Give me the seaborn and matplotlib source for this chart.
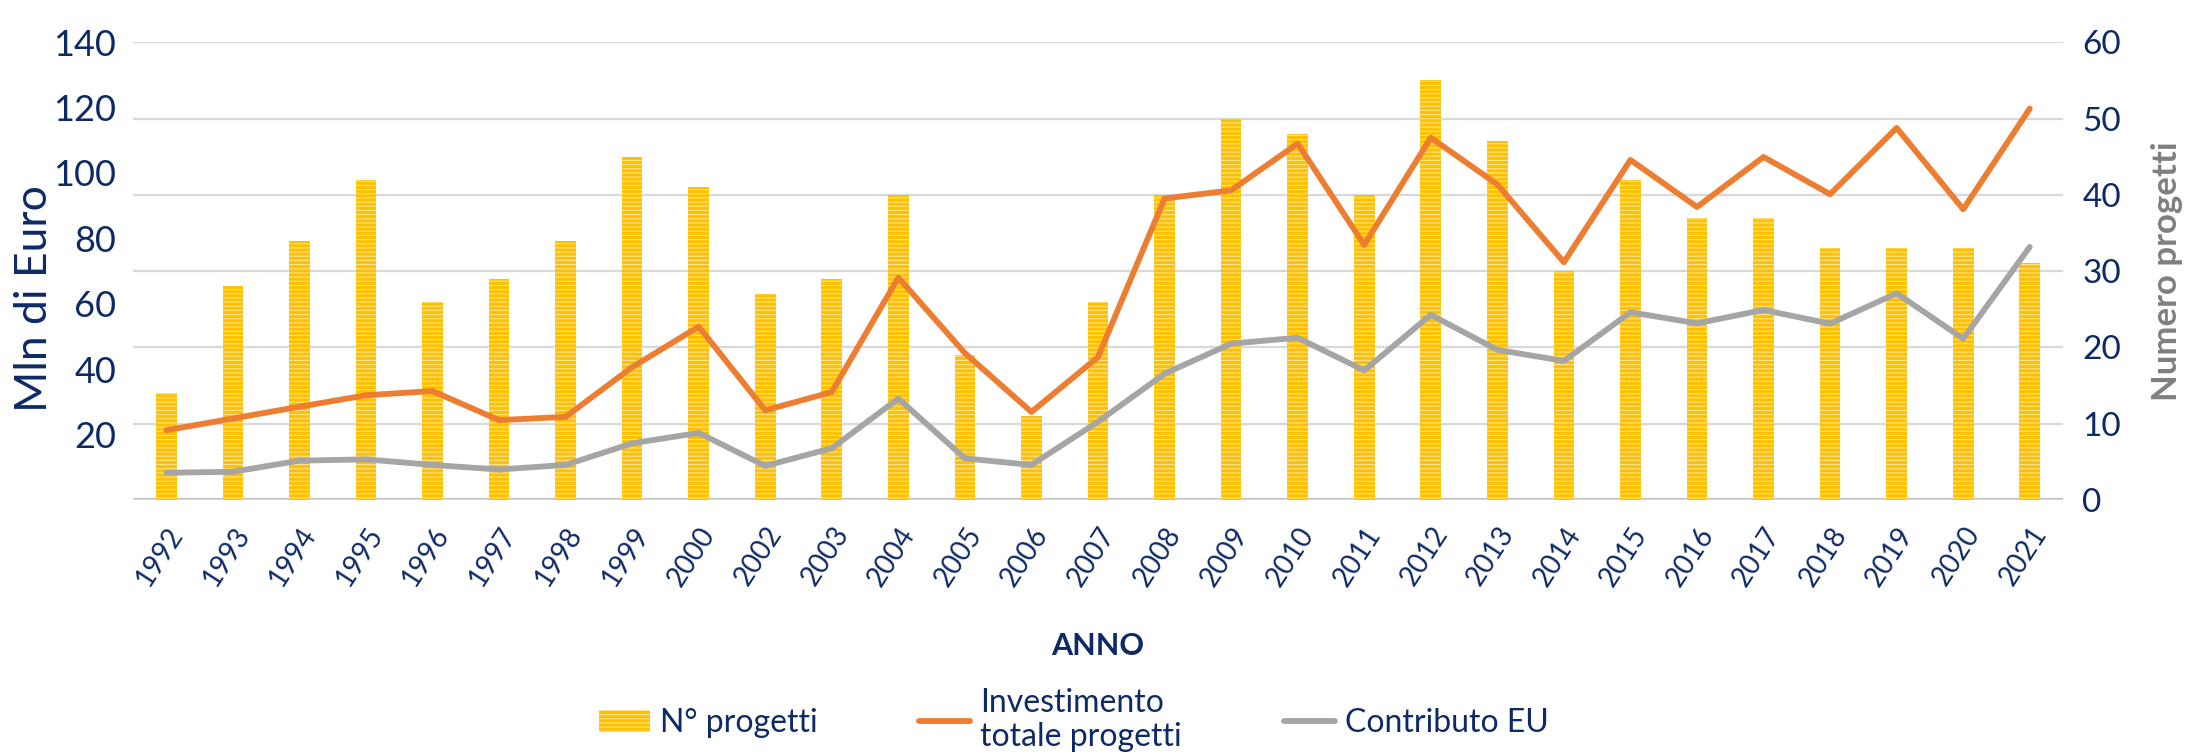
import numpy as np
import pandas as pd
import seaborn as sns
import matplotlib
matplotlib.use('Agg')
import matplotlib.pyplot as plt

# values
anni = ['1992', '1993', '1994', '1995', '1996', '1997', '1998', '1999', '2000', '2002',
        '2003', '2004', '2005', '2006', '2007', '2008', '2009', '2010', '2011', '2012',
        '2013', '2014', '2015', '2016', '2017', '2018', '2019', '2020', '2021']
n_progetti = [14, 28, 34, 42, 26, 29, 34, 45, 41, 27,
              29, 40, 19, 11, 26, 40, 50, 48, 40, 55,
              47, 30, 42, 37, 37, 33, 33, 33, 31]
investimento = [21.3, 24.9, 28.5, 32.0, 33.3, 24.4, 25.4, 40.6, 53.0, 27.4,
                33.0, 68.0, 44.9, 26.9, 43.7, 92.2, 94.7, 109.0, 78.0, 110.8,
                96.5, 72.7, 104.0, 89.6, 104.9, 93.5, 113.8, 88.9, 119.7]
contributo_eu = [8.3, 8.6, 12.0, 12.4, 10.7, 9.3, 10.7, 17.3, 20.5, 10.4,
                 15.8, 31.0, 12.7, 10.7, 23.9, 38.6, 47.8, 49.6, 39.6, 56.6,
                 45.9, 42.5, 57.4, 54.0, 58.1, 53.9, 63.2, 49.3, 77.4]

NAVY = '#0E2A66'
GIALLO = '#FFC000'
ARANCIO = '#ED7D31'
GRIGIO = '#A5A5A5'

sns.set_style('white')
plt.rcParams['font.family'] = ['Lato', 'DejaVu Sans']
plt.rcParams['hatch.linewidth'] = 0.8

df = pd.DataFrame({'anno': anni, 'progetti': n_progetti,
                   'investimento': investimento, 'contributo': contributo_eu,
                   'pos': np.arange(len(anni))})

fig = plt.figure(figsize=(21.91, 7.54), dpi=100)
ax = fig.add_axes([0.0607, 0.337, 0.8809, 0.607])
ax2 = ax.twinx()

# bars on the right axis, drawn underneath the lines
sns.barplot(data=df, x='anno', y='progetti', color=GIALLO, width=0.31,
            saturation=1, ax=ax2, label='N° progetti')
for p in ax2.patches:
    p.set_hatch('----')
    p.set_edgecolor('#FFE48C')
    p.set_linewidth(0)

sns.lineplot(data=df, x='pos', y='investimento', color=ARANCIO, lw=4.2,
             ax=ax, label='Investimento\ntotale progetti')
sns.lineplot(data=df, x='pos', y='contributo', color=GRIGIO, lw=4.2,
             ax=ax, label='Contributo EU')

ax.set_zorder(ax2.get_zorder() + 1)
ax.patch.set_visible(False)

ax.set_xlim(-0.5, len(anni) - 0.5)
ax.set_ylim(0, 140)
ax2.set_ylim(0, 60)
ax.set_yticks(range(20, 141, 20))
ax2.set_yticks(range(0, 61, 10))

ax2.grid(axis='y', color='#D9D9D9', lw=1.6)
ax2.set_axisbelow(True)
ax.grid(False)
ax2.axhline(0, color='#BFBFBF', lw=3, zorder=0.5)

for a in (ax, ax2):
    for s in a.spines.values():
        s.set_visible(False)

ax.set_xticks(range(len(anni)))
ax.set_xticklabels(anni, rotation=57, ha='right', rotation_mode='anchor',
                   fontsize=20, color=NAVY)
ax.tick_params(axis='x', length=0, pad=16)
ax.tick_params(axis='y', length=0, pad=12, labelsize=26, labelcolor=NAVY)
ax2.tick_params(axis='y', length=0, pad=14, labelsize=24, labelcolor=NAVY)

ax.set_xlabel('ANNO', fontsize=22, fontweight='bold', color=NAVY)
ax.xaxis.set_label_coords(0.5, -0.288)
ax.set_ylabel('Mln di Euro', fontsize=32, color=NAVY, va='center')
ax.yaxis.set_label_coords(-0.051, 0.44)
ax2.set_ylabel('Numero progetti', fontsize=25, fontweight='bold',
               color='#7F7F7F', va='center')
ax2.yaxis.set_label_coords(1.054, 0.50)

h1, l1 = ax2.get_legend_handles_labels()
h2, l2 = ax.get_legend_handles_labels()
if ax.get_legend():
    ax.get_legend().remove()
if ax2.get_legend():
    ax2.get_legend().remove()
leg = fig.legend(h1 + h2, l1 + l2, loc='center', bbox_to_anchor=(0.49, 0.045),
                 ncol=3, frameon=False, fontsize=23, handlelength=1.6,
                 handletextpad=0.3, columnspacing=3.2, labelcolor=NAVY)

fig.savefig('out.png', dpi=100)
